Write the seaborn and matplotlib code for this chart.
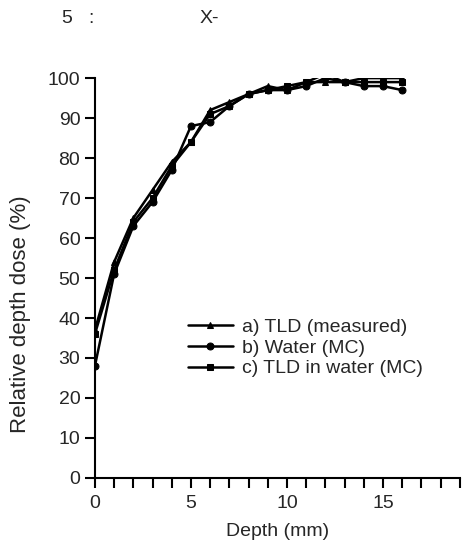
import numpy as np
import pandas as pd
import matplotlib
matplotlib.use("Agg")
import matplotlib.pyplot as plt
import seaborn as sns

depth = list(range(0, 17))
tld_measured = [37, 54, 65, 72, 79, 84, 92, 94, 96, 98, 97, 99, 99, 99, 100, 100, 100]
water_mc = [28, 51, 63, 69, 77, 88, 89, 93, 96, 97, 97, 98, 100, 99, 98, 98, 97]
tld_water_mc = [36, 52, 64, 70, 78, 84, 91, 93, 96, 97, 98, 99, 101, 99, 99, 99, 99]

labels = ["a) TLD (measured)", "b) Water (MC)", "c) TLD in water (MC)"]
markers = ["^", "o", "s"]


def main():
    sns.set_style("ticks")
    plt.rcParams["font.family"] = ["Liberation Sans", "DejaVu Sans"]

    df = pd.DataFrame({
        "Depth": depth * 3,
        "Dose": tld_measured + water_mc + tld_water_mc,
        "Series": [labels[0]] * len(depth) + [labels[1]] * len(depth) + [labels[2]] * len(depth),
    })

    fig = plt.figure(figsize=(4.63, 5.5), dpi=100)
    ax = fig.add_axes([0.205, 0.131, 0.788, 0.727])

    sns.lineplot(data=df, x="Depth", y="Dose", hue="Series", style="Series",
                 palette=["black"] * 3, markers=markers, dashes=False,
                 markersize=5, linewidth=1.8, markeredgecolor="black", ax=ax)

    ax.set_xlim(0, 19)
    ax.set_ylim(0, 100)
    ax.set_xticks(range(0, 20), minor=True)
    ax.set_xticks([0, 5, 10, 15])
    ax.set_yticks(range(0, 101, 10))
    ax.tick_params(axis="both", which="both", direction="out", length=7,
                   width=1.5, color="black", labelsize=14)
    ax.tick_params(axis="x", which="major", pad=5)
    for s in ["top", "right"]:
        ax.spines[s].set_visible(False)
    for s in ["left", "bottom"]:
        ax.spines[s].set_linewidth(1.5)
        ax.spines[s].set_color("black")

    ax.set_xlabel("Depth (mm)", fontsize=14, labelpad=8)
    ax.set_ylabel("Relative depth dose (%)", fontsize=16)
    ax.yaxis.set_label_coords(-0.175, 0.41)

    leg = ax.legend(loc="center left", bbox_to_anchor=(0.255, 0.325), frameon=False,
                    fontsize=14, handlelength=2.3, handletextpad=0.5,
                    labelspacing=0.15, borderaxespad=0, borderpad=0)
    for h in leg.legend_handles:
        h.set_color("black")

    fig.text(0.134, 0.967, "5   :", fontsize=14, va="center")
    fig.text(0.432, 0.967, "X-", fontsize=14, va="center")

    fig.savefig("out.png", dpi=100)


if __name__ == "__main__":
    main()
